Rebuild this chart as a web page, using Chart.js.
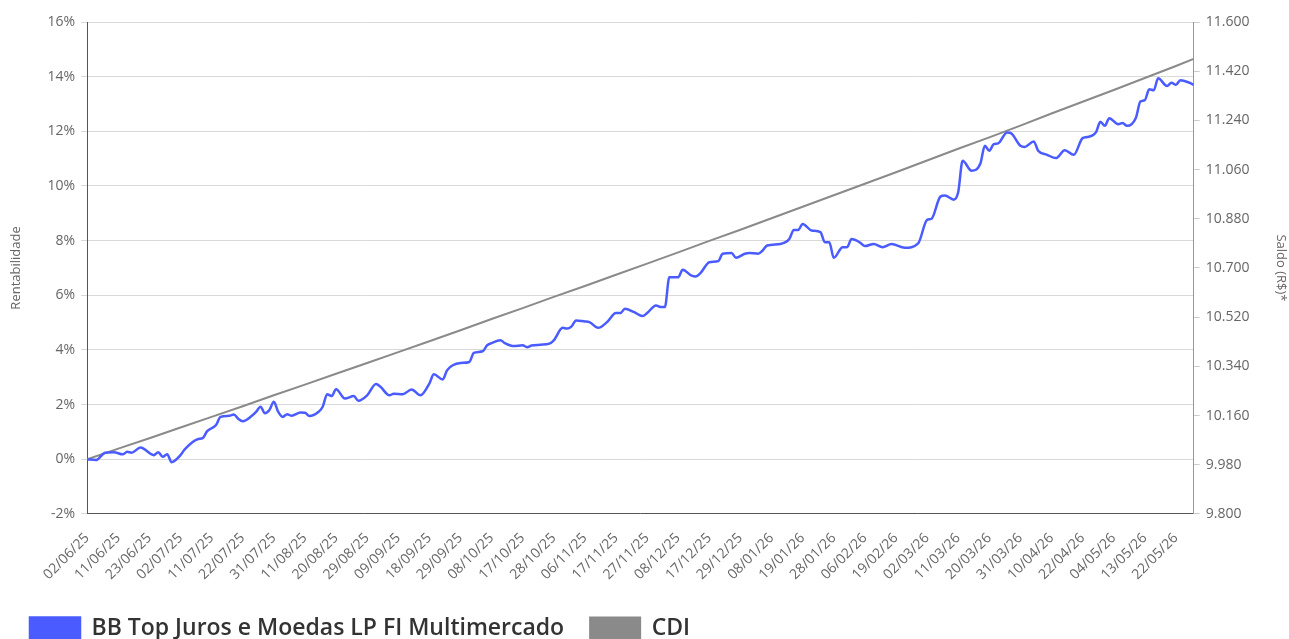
<!DOCTYPE html>
<html>
<head>
<meta charset="utf-8">
<title>Rentabilidade x CDI</title>
<script src="https://cdn.jsdelivr.net/npm/chart.js@4.4.1/dist/chart.umd.min.js"></script>
<style>
  html, body { margin: 0; padding: 0; background: #fff; overflow: hidden; }
  #wrap { width: 1289px; height: 650px; }
</style>
</head>
<body>
<div id="wrap"><canvas id="grafico" width="1289" height="650"></canvas></div>
<script>
// Datas mostradas no eixo X (uma a cada 7 pregões)
const tickLabels = [
    "02/06/25", "11/06/25", "23/06/25", "02/07/25", "11/07/25", "22/07/25", "31/07/25",
    "11/08/25", "20/08/25", "29/08/25", "09/09/25", "18/09/25", "29/09/25", "08/10/25",
    "17/10/25", "28/10/25", "06/11/25", "17/11/25", "27/11/25", "08/12/25", "17/12/25",
    "29/12/25", "08/01/26", "19/01/26", "28/01/26", "06/02/26", "19/02/26", "02/03/26",
    "11/03/26", "20/03/26", "31/03/26", "10/04/26", "22/04/26", "04/05/26", "13/05/26",
    "22/05/26"
];
const lastDay = 249;

// Rentabilidade acumulada do fundo (% ) -> [pregão, valor]
const fundPoints = [
    [0, 0.00], [2, -0.03], [4, 0.24], [6, 0.26], [8, 0.18], [9, 0.27], [10, 0.24], [12, 0.43],
    [15, 0.15], [16, 0.26], [17, 0.09], [18, 0.18], [19, -0.11], [21, 0.15], [22, 0.37],
    [25, 0.74], [26, 0.77], [27, 1.03], [29, 1.25], [30, 1.55], [32, 1.59], [33, 1.64],
    [34, 1.48], [35, 1.39], [37, 1.58], [38, 1.73], [39, 1.92], [40, 1.68], [41, 1.80],
    [42, 2.10], [43, 1.73], [44, 1.55], [45, 1.65], [46, 1.59], [48, 1.71], [49, 1.70],
    [50, 1.58], [52, 1.73], [53, 1.92], [54, 2.38], [55, 2.31], [56, 2.56], [58, 2.22],
    [60, 2.31], [61, 2.14], [63, 2.34], [65, 2.75], [66, 2.65], [68, 2.34], [69, 2.40],
    [71, 2.38], [73, 2.55], [75, 2.34], [77, 2.77], [78, 3.11], [80, 2.92], [81, 3.26],
    [84, 3.52], [86, 3.56], [87, 3.89], [89, 3.95], [90, 4.17], [91, 4.25], [93, 4.35],
    [94, 4.25], [96, 4.14], [98, 4.17], [99, 4.10], [100, 4.16], [102, 4.19], [104, 4.23],
    [105, 4.35], [107, 4.81], [108, 4.78], [109, 4.86], [110, 5.08], [112, 5.04], [113, 5.02],
    [115, 4.81], [117, 5.02], [119, 5.35], [120, 5.35], [121, 5.51], [123, 5.39], [125, 5.24],
    [126, 5.35], [128, 5.63], [129, 5.57], [130, 5.57], [131, 6.66], [133, 6.66], [134, 6.93],
    [136, 6.72], [137, 6.69], [138, 6.81], [140, 7.21], [142, 7.25], [143, 7.52], [145, 7.55],
    [146, 7.37], [148, 7.52], [149, 7.55], [151, 7.52], [152, 7.64], [153, 7.82], [156, 7.88],
    [158, 8.06], [159, 8.39], [160, 8.39], [161, 8.61], [163, 8.37], [165, 8.31], [166, 7.94],
    [167, 7.94], [168, 7.37], [170, 7.76], [171, 7.76], [172, 8.06], [174, 7.92], [175, 7.80],
    [177, 7.88], [179, 7.76], [181, 7.88], [184, 7.74], [187, 7.90], [189, 8.76], [190, 8.80],
    [192, 9.61], [193, 9.65], [195, 9.50], [196, 9.77], [197, 10.92], [199, 10.56], [201, 10.82],
    [202, 11.47], [203, 11.29], [204, 11.53], [205, 11.56], [207, 11.96], [208, 11.92],
    [210, 11.47], [211, 11.43], [213, 11.63], [214, 11.29], [216, 11.14], [218, 11.02],
    [220, 11.31], [222, 11.14], [224, 11.75], [225, 11.79], [227, 11.96], [228, 12.35],
    [229, 12.20], [230, 12.48], [232, 12.26], [233, 12.30], [234, 12.20], [236, 12.50],
    [237, 13.09], [238, 13.14], [239, 13.54], [240, 13.50], [241, 13.94], [243, 13.66],
    [244, 13.78], [245, 13.70], [246, 13.87], [248, 13.78], [249, 13.70]
];

// CDI acumulado (%) -> [pregão, valor]
const cdiPoints = [
    [0, 0.00], [7, 0.39], [14, 0.77], [21, 1.16], [28, 1.55], [35, 1.94], [42, 2.34],
    [49, 2.73], [56, 3.13], [63, 3.52], [70, 3.92], [77, 4.32], [84, 4.72], [91, 5.13],
    [98, 5.53], [105, 5.94], [112, 6.34], [119, 6.75], [126, 7.16], [133, 7.57], [140, 7.99],
    [147, 8.40], [154, 8.82], [161, 9.24], [168, 9.66], [175, 10.08], [182, 10.50],
    [189, 10.93], [196, 11.36], [203, 11.78], [210, 12.21], [217, 12.65], [224, 13.08],
    [231, 13.51], [238, 13.95], [245, 14.39], [249, 14.65]
];

// Eixo da direita (saldo em R$)
const saldoMin = 9800;
const saldoMax = 11600;
const saldoStep = 180;

const corFundo = '#4a5cff';
const corCdi = '#8a8a8a';

Chart.defaults.font.family = "'Open Sans', sans-serif";
Chart.defaults.color = '#666';

// 11600 -> "11.600"
function formatSaldo(v) {
    const s = String(Math.round(v));
    return s.slice(0, -3) + '.' + s.slice(-3);
}

const ctx = document.getElementById('grafico').getContext('2d');
new Chart(ctx, {
    type: 'line',
    data: {
        datasets: [{
            label: 'BB Top Juros e Moedas LP FI Multimercado',
            data: fundPoints.map(p => ({ x: p[0], y: p[1] })),
            borderColor: corFundo,
            backgroundColor: corFundo,
            borderWidth: 2.5,
            pointRadius: 0,
            cubicInterpolationMode: 'monotone',
            yAxisID: 'y'
        }, {
            label: 'CDI',
            data: cdiPoints.map(p => ({ x: p[0], y: p[1] })),
            borderColor: corCdi,
            backgroundColor: corCdi,
            borderWidth: 2,
            pointRadius: 0,
            tension: 0,
            yAxisID: 'y'
        }]
    },
    options: {
        responsive: false,
        animation: false,
        layout: { padding: { left: 4, right: 0, top: 22, bottom: 0 } },
        plugins: {
            tooltip: { enabled: false },
            legend: {
                position: 'bottom',
                align: 'start',
                labels: {
                    boxWidth: 50,
                    boxHeight: 22,
                    padding: 26,
                    color: '#333',
                    font: { size: 23, weight: '600' }
                }
            }
        },
        scales: {
            x: {
                type: 'linear',
                min: 0,
                max: lastDay,
                grid: { display: false },
                border: { display: true, color: '#555', width: 1 },
                afterBuildTicks: axis => {
                    axis.ticks = tickLabels.map((_, i) => ({ value: i * 7 }));
                },
                ticks: {
                    autoSkip: false,
                    minRotation: 45,
                    maxRotation: 45,
                    padding: 8,
                    font: { size: 14 },
                    callback: v => tickLabels[Math.round(v / 7)] || ''
                }
            },
            y: {
                position: 'left',
                min: -2,
                max: 16,
                ticks: {
                    stepSize: 2,
                    padding: 6,
                    font: { size: 14 },
                    callback: v => v + '%'
                },
                grid: { color: '#d9d9d9', tickLength: 6 },
                border: { color: '#555' },
                title: {
                    display: true,
                    text: 'Rentabilidade',
                    font: { size: 13 },
                    padding: { top: 4, bottom: 18 }
                }
            },
            y2: {
                position: 'right',
                min: saldoMin,
                max: saldoMax,
                ticks: {
                    stepSize: saldoStep,
                    padding: 6,
                    font: { size: 14 },
                    callback: v => formatSaldo(v)
                },
                grid: { drawOnChartArea: false, color: '#ccc', tickLength: 6 },
                border: { color: '#999' },
                title: {
                    display: true,
                    text: 'Saldo (R$)*',
                    font: { size: 13 },
                    padding: { top: 0, bottom: 18 }
                }
            }
        }
    }
});
</script>
</body>
</html>
